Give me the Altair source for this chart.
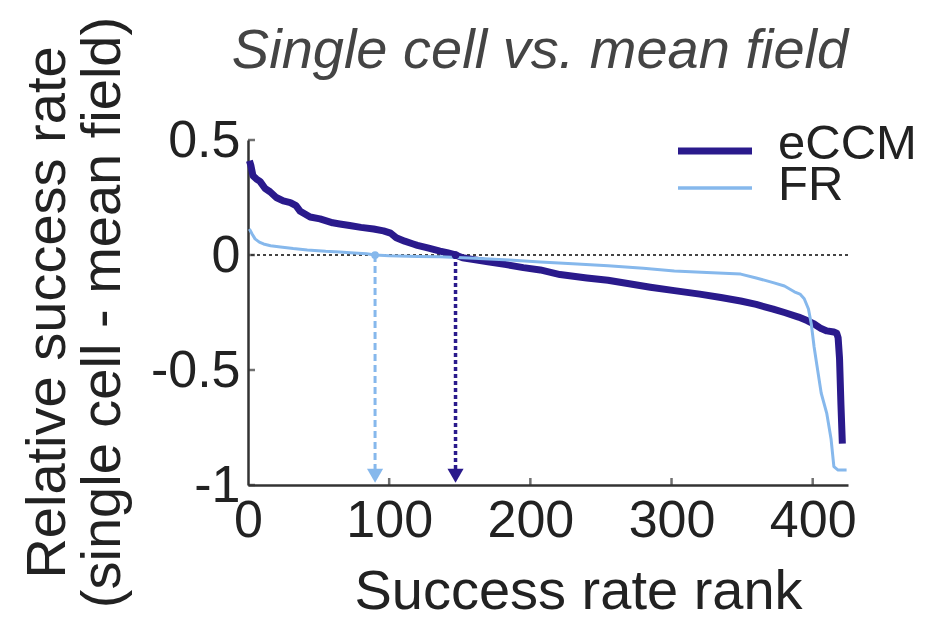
import altair as alt
import pandas as pd

# Ranked relative success rate (single cell minus mean field)
eccm_rank = [1, 2, 3.5, 6, 8.5, 12, 15.6, 20, 25, 30, 34, 37, 44, 51, 60, 65, 72, 80,
             89, 96, 101, 105, 111, 117, 120, 128, 136, 141, 147, 152, 160, 170, 183,
             195, 207, 221, 240, 255, 270, 285, 302, 320, 335, 349, 360, 372, 380,
             390, 396, 401, 406, 410, 415, 417, 418, 419, 420, 421]
eccm_value = [0.41, 0.39, 0.345, 0.33, 0.32, 0.29, 0.275, 0.25, 0.235, 0.228, 0.215,
              0.19, 0.165, 0.157, 0.14, 0.135, 0.128, 0.12, 0.113, 0.105, 0.095, 0.075,
              0.06, 0.048, 0.042, 0.03, 0.017, 0.01, 0.0, -0.012, -0.02, -0.03, -0.042,
              -0.055, -0.065, -0.085, -0.1, -0.11, -0.125, -0.14, -0.155, -0.17, -0.185,
              -0.2, -0.215, -0.235, -0.25, -0.27, -0.285, -0.3, -0.32, -0.33, -0.335,
              -0.34, -0.36, -0.45, -0.65, -0.82]

fr_rank = [1, 3, 5, 8, 11, 16, 23, 32, 42, 55, 65, 75, 84, 90, 100, 120, 136, 160, 185,
           207, 230, 255, 280, 302, 325, 349, 360, 372, 380, 387, 391, 394, 397, 399,
           401, 403, 406, 410, 413, 415, 418, 421, 424]
fr_value = [0.113, 0.09, 0.07, 0.056, 0.048, 0.04, 0.035, 0.028, 0.022, 0.016, 0.013,
            0.009, 0.005, 0.0, -0.003, -0.006, -0.008, -0.014, -0.022, -0.03, -0.038,
            -0.047, -0.058, -0.07, -0.076, -0.083, -0.1, -0.12, -0.135, -0.16, -0.17,
            -0.19, -0.235, -0.3, -0.4, -0.48, -0.6, -0.69, -0.8, -0.92, -0.935, -0.935,
            -0.935]

# Rank at which each curve crosses zero (marked by arrows)
cross_series = ["FR", "eCCM"]
cross_rank = [90, 147]
arrow_tip = -0.96

series_names = ["eCCM", "FR"]
series_colors = ["#2a1a8c", "#86b8ec"]
y_ticks = [-1, -0.5, 0, 0.5]
x_ticks = [0, 100, 200, 300, 400]
title_text = ["Single cell vs. mean field"]

FONT = "Liberation Sans"
TEXT = "#222222"

curves = pd.concat([
    pd.DataFrame({"series": "eCCM", "rank": eccm_rank, "value": eccm_value}),
    pd.DataFrame({"series": "FR", "rank": fr_rank, "value": fr_value}),
])
cross = pd.DataFrame({"series": cross_series, "rank": cross_rank,
                      "zero": 0.0, "tip": arrow_tip})

xscale = alt.Scale(domain=[0, 425], nice=False, zero=False)
yscale = alt.Scale(domain=[-1, 0.5], nice=False, zero=False)
cscale = alt.Scale(domain=series_names, range=series_colors)

x_axis = alt.Axis(values=x_ticks, title="Success rate rank", labelFontSize=52,
                  labelFont=FONT, labelColor=TEXT, labelPadding=10,
                  ticks=False, grid=False, domainColor="#333333", domainWidth=2.5,
                  titleFont=FONT, titleFontSize=56, titleFontWeight="normal",
                  titleColor=TEXT, titleX=330, titleY=123, titleBaseline="alphabetic",
                  titleAlign="center", labelFlush=False)
y_axis = alt.Axis(values=y_ticks, title=["Relative success rate", "(single cell - mean field)"],
                  labelFontSize=52, labelFont=FONT, labelColor=TEXT, labelPadding=8,
                  ticks=False, grid=False, domainColor="#333333", domainWidth=2.5,
                  titleFont=FONT, titleFontSize=56, titleFontWeight="normal",
                  titleColor=TEXT, titleX=-184, titleY=172, titleAngle=270,
                  titleBaseline="alphabetic", titleAlign="center", titleLineHeight=55,
                  labelFlush=False, labelExpr="toString(datum.value)")

zero_line = alt.Chart(pd.DataFrame({"v": [0.0]})).mark_rule(
    color="#444444", strokeWidth=2, strokeDash=[3, 3]
).encode(y=alt.Y("v:Q", scale=yscale, axis=y_axis))

lines = alt.Chart(curves).mark_line(strokeJoin="round").encode(
    x=alt.X("rank:Q", scale=xscale, axis=x_axis),
    y=alt.Y("value:Q", scale=yscale, axis=y_axis),
    color=alt.Color("series:N", scale=cscale, legend=None),
    strokeWidth=alt.StrokeWidth("series:N",
                                scale=alt.Scale(domain=series_names, range=[7, 3]),
                                legend=None),
    order=alt.Order("rank:Q"),
)

arrow_fr = alt.Chart(cross).transform_filter(alt.datum.series == "FR").mark_rule(
    strokeWidth=3, strokeDash=[7, 4], color=series_colors[1]
).encode(x="rank:Q", y="zero:Q", y2="tip:Q")
arrow_ec = alt.Chart(cross).transform_filter(alt.datum.series == "eCCM").mark_rule(
    strokeWidth=3.5, strokeDash=[4, 3], color=series_colors[0]
).encode(x="rank:Q", y="zero:Q", y2="tip:Q")

heads = alt.Chart(cross).mark_point(shape="triangle-down", filled=True, size=260,
                                    opacity=1).encode(
    x="rank:Q", y="tip:Q",
    color=alt.Color("series:N", scale=cscale, legend=None))
dots = alt.Chart(cross).mark_point(shape="circle", filled=True, size=60,
                                   opacity=1).encode(
    x="rank:Q", y="zero:Q",
    color=alt.Color("series:N", scale=cscale, legend=None))

# Axis ticks pointing into the plot
ytick_marks = alt.Chart(pd.DataFrame({"t": y_ticks})).mark_tick(
    orient="horizontal", size=7, thickness=2.5, color="#333333"
).encode(y="t:Q", x=alt.value(3.5))
xtick_marks = alt.Chart(pd.DataFrame({"t": x_ticks[1:]})).mark_tick(
    orient="vertical", size=7, thickness=2.5, color="#333333"
).encode(x="t:Q", y=alt.value(341.5))

# Legend: line sample and label per series
legend_df = pd.DataFrame({"series": series_names})
legend_layers = []
for name, color, width, ypix, ytxt in zip(series_names, series_colors, [7, 3.5],
                                         [11, 48], [19, 60]):
    entry = alt.Chart(legend_df).transform_filter(alt.datum.series == name)
    legend_layers.append(entry.mark_rule(color=color, strokeWidth=width).encode(
        x=alt.value(430), x2=alt.value(504), y=alt.value(ypix)))
    legend_layers.append(entry.mark_text(align="left", baseline="alphabetic", font=FONT,
                                         fontSize=49, color=TEXT).encode(
        text="series:N", x=alt.value(530), y=alt.value(ytxt)))

# Chart title, drawn as text above the plot
title = alt.Chart(pd.DataFrame({"t": title_text})).mark_text(
    align="center", baseline="alphabetic", font=FONT, fontSize=56,
    fontStyle="italic", color="#444444"
).encode(text="t:N", x=alt.value(292), y=alt.value(-72))

chart = alt.layer(
    zero_line, lines, arrow_fr, arrow_ec, heads, dots, ytick_marks, xtick_marks,
    *legend_layers, title
).properties(
    width=600, height=345,
    background="white",
    padding={"left": 248, "top": 140, "right": 96, "bottom": 140},
    autosize="none",
).configure_view(stroke=None)

chart.save("out.html", embed_options={"renderer": "svg", "actions": False})
